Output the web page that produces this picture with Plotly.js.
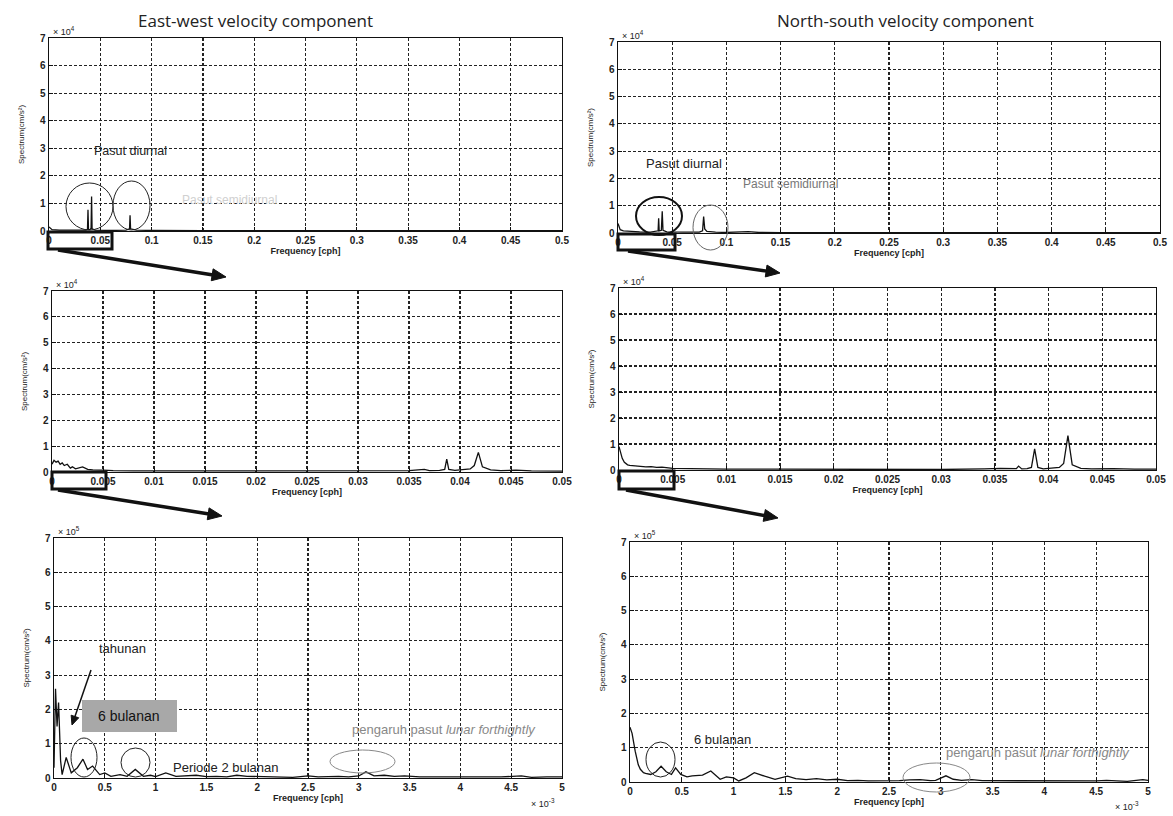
<!DOCTYPE html>
<html>
<head>
<meta charset="utf-8">
<script src="https://cdn.plot.ly/plotly-3.0.1.min.js"></script>
<style>html,body{margin:0;padding:0;background:#fff;}#chart{width:1173px;height:816px;}</style>
</head>
<body>
<div id="chart"></div>
<script>
// ---------- DATA (spectrum values in units of the axis multiplier) ----------
// Top row: full band 0–0.5 cph (×10^4)
const ewFullFreq = [0, 0.003, 0.01, 0.02, 0.03, 0.036, 0.0375, 0.038, 0.0385, 0.04, 0.041, 0.0415, 0.042, 0.045, 0.06, 0.075, 0.0785, 0.079, 0.0795, 0.082, 0.085, 0.1, 0.125, 0.15, 0.2, 0.25, 0.3, 0.35, 0.4, 0.45, 0.5];
const ewFullVal  = [0.15, 0.05, 0.03, 0.02, 0.02, 0.03, 0.05, 0.77, 0.05, 0.05, 0.1, 1.25, 0.08, 0.03, 0.02, 0.03, 0.08, 0.57, 0.08, 0.05, 0.03, 0.02, 0.01, 0.01, 0.01, 0.01, 0.01, 0.01, 0.01, 0.01, 0.01];
const nsFullFreq = [0, 0.002, 0.005, 0.01, 0.02, 0.03, 0.036, 0.037, 0.0375, 0.038, 0.04, 0.0408, 0.0415, 0.045, 0.06, 0.075, 0.078, 0.079, 0.08, 0.082, 0.09, 0.1, 0.12, 0.13, 0.15, 0.2, 0.3, 0.4, 0.5];
const nsFullVal  = [0.35, 0.12, 0.08, 0.06, 0.04, 0.03, 0.05, 0.08, 0.54, 0.08, 0.1, 0.8, 0.1, 0.04, 0.03, 0.03, 0.08, 0.6, 0.15, 0.06, 0.03, 0.02, 0.05, 0.02, 0.01, 0.01, 0.01, 0.01, 0.01];

// Middle row: 0–0.05 cph (×10^4)
const ewMidFreq = [0, 0.0002, 0.0004, 0.0006, 0.0008, 0.001, 0.0012, 0.0015, 0.0018, 0.002, 0.0023, 0.0026, 0.003, 0.0035, 0.004, 0.005, 0.006, 0.008, 0.01, 0.015, 0.02, 0.025, 0.03, 0.033, 0.035, 0.0365, 0.037, 0.038, 0.0385, 0.0387, 0.0389, 0.0395, 0.04, 0.041, 0.0414, 0.0418, 0.0422, 0.043, 0.044, 0.0455, 0.047, 0.05];
const ewMidVal  = [0.3, 0.45, 0.38, 0.42, 0.3, 0.35, 0.25, 0.3, 0.15, 0.2, 0.12, 0.15, 0.2, 0.1, 0.08, 0.07, 0.05, 0.04, 0.04, 0.03, 0.03, 0.03, 0.03, 0.04, 0.05, 0.1, 0.05, 0.06, 0.1, 0.5, 0.1, 0.06, 0.08, 0.12, 0.25, 0.76, 0.2, 0.08, 0.05, 0.07, 0.04, 0.03];
const nsMidFreq = [0, 0.0001, 0.0003, 0.0005, 0.0008, 0.001, 0.0015, 0.002, 0.0025, 0.003, 0.0035, 0.004, 0.005, 0.007, 0.01, 0.015, 0.02, 0.025, 0.03, 0.034, 0.0355, 0.037, 0.0372, 0.0375, 0.038, 0.0384, 0.0387, 0.039, 0.0395, 0.04, 0.041, 0.0414, 0.0418, 0.0422, 0.043, 0.044, 0.046, 0.048, 0.05];
const nsMidVal  = [0.9, 0.75, 0.45, 0.3, 0.2, 0.18, 0.15, 0.14, 0.12, 0.13, 0.1, 0.11, 0.06, 0.04, 0.03, 0.03, 0.02, 0.02, 0.02, 0.04, 0.06, 0.05, 0.15, 0.04, 0.05, 0.1, 0.81, 0.1, 0.04, 0.06, 0.1, 0.25, 1.32, 0.2, 0.06, 0.04, 0.05, 0.03, 0.03];

// Bottom row: 0–5 ×10^-3 cph (×10^5)
const ewLowFreq = [0, 0.015, 0.03, 0.045, 0.065, 0.08, 0.12, 0.17, 0.23, 0.285, 0.33, 0.38, 0.45, 0.5, 0.56, 0.65, 0.72, 0.8, 0.88, 0.95, 1.0, 1.1, 1.2, 1.3, 1.4, 1.5, 1.6, 1.7, 1.8, 1.9, 2.0, 2.1, 2.2, 2.35, 2.5, 2.6, 2.7, 2.8, 2.9, 3.0, 3.07, 3.15, 3.25, 3.35, 3.45, 3.6, 3.8, 4.0, 4.2, 4.4, 4.6, 4.7, 4.85, 5.0];
const ewLowVal  = [0.3, 2.6, 1.5, 2.2, 0.5, 0.1, 0.6, 0.15, 0.3, 0.55, 0.25, 0.35, 0.1, 0.15, 0.05, 0.1, 0.05, 0.25, 0.05, 0.08, 0.04, 0.15, 0.05, 0.07, 0.08, 0.04, 0.05, 0.03, 0.08, 0.05, 0.04, 0.03, 0.04, 0.02, 0.06, 0.03, 0.04, 0.05, 0.03, 0.06, 0.18, 0.06, 0.08, 0.05, 0.06, 0.03, 0.03, 0.03, 0.02, 0.03, 0.06, 0.02, 0.03, 0.03];
const nsLowFreq = [0, 0.02, 0.05, 0.08, 0.1, 0.13, 0.15, 0.2, 0.25, 0.3, 0.35, 0.4, 0.44, 0.49, 0.55, 0.6, 0.7, 0.78, 0.87, 0.93, 1.0, 1.05, 1.12, 1.2, 1.3, 1.4, 1.52, 1.6, 1.7, 1.8, 1.9, 2.0, 2.1, 2.2, 2.3, 2.4, 2.5, 2.6, 2.7, 2.8, 2.9, 2.95, 3.05, 3.12, 3.2, 3.3, 3.4, 3.5, 3.7, 3.9, 4.1, 4.3, 4.5, 4.6, 4.7, 4.8, 4.95, 5.0];
const nsLowVal  = [1.6, 1.42, 0.9, 0.5, 0.37, 0.27, 0.25, 0.22, 0.3, 0.46, 0.3, 0.22, 0.41, 0.22, 0.15, 0.18, 0.2, 0.32, 0.08, 0.15, 0.12, 0.03, 0.12, 0.27, 0.17, 0.08, 0.17, 0.1, 0.07, 0.1, 0.06, 0.08, 0.04, 0.05, 0.03, 0.03, 0.05, 0.04, 0.06, 0.07, 0.04, 0.05, 0.18, 0.08, 0.05, 0.07, 0.04, 0.04, 0.03, 0.03, 0.04, 0.02, 0.03, 0.05, 0.03, 0.02, 0.07, 0.05];

const panelTitles = ["East-west velocity component", "North-south velocity component"];
const yTickVals = [0, 1, 2, 3, 4, 5, 6, 7];
const xTicksFull = [0, 0.05, 0.1, 0.15, 0.2, 0.25, 0.3, 0.35, 0.4, 0.45, 0.5];
const xTicksMid = [0, 0.005, 0.01, 0.015, 0.02, 0.025, 0.03, 0.035, 0.04, 0.045, 0.05];
const xTicksLow = [0, 0.5, 1, 1.5, 2, 2.5, 3, 3.5, 4, 4.5, 5];

// ---------- LAYOUT HELPERS ----------
const W = 1173, H = 816;
const px = x => x / W;
const py = y => 1 - y / H;

const tickFont = {family: 'Liberation Sans, Arial, sans-serif', size: 10, color: '#222', weight: 'bold'};
function xAxis(box, ticks, range) {
  return {
    domain: [px(box[0]), px(box[2])], range: range, tickvals: ticks,
    showline: true, linecolor: '#111', linewidth: 1.4, mirror: true,
    showgrid: true, gridcolor: '#222', griddash: '3px,2px', gridwidth: 1.2,
    zeroline: false, ticks: 'inside', ticklen: 4, tickcolor: '#111',
    tickfont: tickFont, fixedrange: true,
    title: {text: '<b>Frequency [cph]</b>', font: {family: 'Liberation Sans, Arial, sans-serif', size: 9, color: '#222'}, standoff: 1}
  };
}
function yAxis(box) {
  return {
    domain: [py(box[3]), py(box[1])], range: [0, 7], tickvals: yTickVals,
    showline: true, linecolor: '#111', linewidth: 1.4, mirror: true,
    showgrid: true, gridcolor: '#222', griddash: '3px,2px', gridwidth: 1.2,
    zeroline: false, ticks: 'inside', ticklen: 4, tickcolor: '#111',
    tickfont: tickFont, fixedrange: true,
    title: {text: 'Spectrum(cm/s²)', font: {family: 'Liberation Sans Narrow, Liberation Sans, Arial', size: 8, color: '#222'}, standoff: 14}
  };
}

// panel boxes in pixels [left, top, right, bottom]
const boxes = [
  [49, 38, 562, 231],    // TL
  [618, 42, 1160, 233],  // TR
  [52, 291, 562, 472],   // ML
  [619, 288, 1156, 470], // MR
  [54, 538, 562, 778],   // BL
  [630, 542, 1148, 782]  // BR
];

const line = {color: '#111', width: 1.3};
const data = [
  {x: ewFullFreq, y: ewFullVal, xaxis: 'x', yaxis: 'y'},
  {x: nsFullFreq, y: nsFullVal, xaxis: 'x2', yaxis: 'y2'},
  {x: ewMidFreq, y: ewMidVal, xaxis: 'x3', yaxis: 'y3'},
  {x: nsMidFreq, y: nsMidVal, xaxis: 'x4', yaxis: 'y4'},
  {x: ewLowFreq, y: ewLowVal, xaxis: 'x5', yaxis: 'y5'},
  {x: nsLowFreq, y: nsLowVal, xaxis: 'x6', yaxis: 'y6'}
].map(t => Object.assign(t, {type: 'scatter', mode: 'lines', line: line, hoverinfo: 'skip', showlegend: false}));

const layout = {
  width: W, height: H, margin: {l: 0, r: 0, t: 0, b: 0},
  paper_bgcolor: '#fff', plot_bgcolor: '#fff', showlegend: false,
  xaxis: Object.assign(xAxis(boxes[0], xTicksFull, [0, 0.5]), {anchor: 'y'}),
  yaxis: Object.assign(yAxis(boxes[0]), {anchor: 'x'}),
  xaxis2: Object.assign(xAxis(boxes[1], xTicksFull, [0, 0.5]), {anchor: 'y2'}),
  yaxis2: Object.assign(yAxis(boxes[1]), {anchor: 'x2'}),
  xaxis3: Object.assign(xAxis(boxes[2], xTicksMid, [0, 0.05]), {anchor: 'y3'}),
  yaxis3: Object.assign(yAxis(boxes[2]), {anchor: 'x3'}),
  xaxis4: Object.assign(xAxis(boxes[3], xTicksMid, [0, 0.05]), {anchor: 'y4'}),
  yaxis4: Object.assign(yAxis(boxes[3]), {anchor: 'x4'}),
  xaxis5: Object.assign(xAxis(boxes[4], xTicksLow, [0, 5]), {anchor: 'y5'}),
  yaxis5: Object.assign(yAxis(boxes[4]), {anchor: 'x5'}),
  xaxis6: Object.assign(xAxis(boxes[5], xTicksLow, [0, 5]), {anchor: 'y6'}),
  yaxis6: Object.assign(yAxis(boxes[5]), {anchor: 'x6'}),
  shapes: [],
  annotations: []
};

function rect(x0, y0, x1, y1, opts) {
  layout.shapes.push(Object.assign({type: 'rect', xref: 'paper', yref: 'paper',
    x0: px(x0), x1: px(x1), y0: py(y1), y1: py(y0), line: {color: '#111', width: 3}}, opts || {}));
}
function ellipse(x0, y0, x1, y1, color, width) {
  layout.shapes.push({type: 'circle', xref: 'paper', yref: 'paper',
    x0: px(x0), x1: px(x1), y0: py(y1), y1: py(y0), line: {color: color, width: width}});
}
function text(t, x, y, size, color, extra) {
  layout.annotations.push(Object.assign({text: t, xref: 'paper', yref: 'paper', x: px(x), y: py(y),
    showarrow: false, xanchor: 'center', yanchor: 'middle',
    font: {family: 'Liberation Sans, Arial, sans-serif', size: size, color: color}}, extra || {}));
}
// arrow drawn as a line shape plus a filled triangular head (pixel coords)
function arrow(tx, ty, hx, hy, width, headLen, headHalf) {
  const dx = hx - tx, dy = hy - ty, len = Math.hypot(dx, dy);
  const ux = dx / len, uy = dy / len, nx = -uy, ny = ux;
  const bx = hx - ux * headLen, by = hy - uy * headLen;
  layout.shapes.push({type: 'line', xref: 'paper', yref: 'paper',
    x0: px(tx), y0: py(ty), x1: px(bx + ux * 1), y1: py(by + uy * 1), line: {color: '#111', width: width}});
  const p = (x, y) => px(x).toFixed(5) + ',' + py(y).toFixed(5);
  layout.shapes.push({type: 'path', xref: 'paper', yref: 'paper',
    path: 'M' + p(hx, hy) + ' L' + p(bx + nx * headHalf, by + ny * headHalf) + ' L' + p(bx - nx * headHalf, by - ny * headHalf) + ' Z',
    fillcolor: '#111', line: {color: '#111', width: 1}});
}

// Column titles
text(panelTitles[0], 255, 20, 17, '#222', {font: {family: 'Open Sans, sans-serif', size: 17, color: '#222'}});
text(panelTitles[1], 905, 20, 17, '#222', {font: {family: 'Open Sans, sans-serif', size: 17, color: '#222'}});

// Exponent labels
const expY = [[boxes[0], '× 10<sup>4</sup>'], [boxes[1], '× 10<sup>4</sup>'], [boxes[2], '× 10<sup>4</sup>'],
              [boxes[3], '× 10<sup>4</sup>'], [boxes[4], '× 10<sup>5</sup>'], [boxes[5], '× 10<sup>5</sup>']];
expY.forEach(e => text(e[1], e[0][0] + 2, e[0][1] - 7, 9, '#222', {xanchor: 'left'}));
text('× 10<sup>-3</sup>', 543, 803, 9, '#222');
text('× 10<sup>-3</sup>', 1127, 806, 9, '#222');

// Zoom boxes and arrows
rect(48, 232, 112, 249);
rect(618, 234, 675, 250);
rect(52, 472, 106, 489);
rect(619, 471, 674, 489);
arrow(58, 250, 226, 277, 3.5, 14, 6);
arrow(628, 251, 780, 273, 3.5, 14, 6);
arrow(58, 490, 222, 516, 3.5, 14, 6);
arrow(626, 490, 778, 518, 3.5, 14, 6);

// Top-left annotations
ellipse(66, 183, 113, 230, '#222', 1);
ellipse(113, 181, 150, 230, '#222', 1);
text('Pasut diurnal', 130, 151, 12.5, '#222');
text('Pasut semidiurnal', 229, 200, 12, '#d0d0d0');

// Top-right annotations
ellipse(636, 197, 682, 235, '#111', 2);
ellipse(693, 205, 728, 250, '#666', 1);
text('Pasut diurnal', 684, 164, 13, '#222');
text('Pasut semidiurnal', 790, 184, 12, '#777');

// Bottom-left annotations
rect(82, 700, 177, 732, {fillcolor: '#a8a8a8', line: {width: 0}});
text('6 bulanan', 129, 716, 14, '#111');
text('tahunan', 122, 648, 13, '#222');
arrow(91, 670, 72, 725, 1.5, 9, 4);
ellipse(71, 738, 97, 777, '#222', 1);
ellipse(121, 748, 150, 777, '#222', 1);
ellipse(330, 750, 395, 773, '#888', 1);
text('Periode 2 bulanan', 226, 767, 13, '#222');
text('pengaruh pasut <i>lunar forthightly</i>', 444, 729, 13, '#888');

// Bottom-right annotations
ellipse(646, 742, 675, 777, '#222', 1);
ellipse(903, 763, 970, 792, '#888', 1);
text('6 bulanan', 722, 739, 13, '#222');
text('pengaruh pasut <i>lunar forthightly</i>', 1038, 752, 13, '#888');

Plotly.newPlot('chart', data, layout, {staticPlot: true, displayModeBar: false});
</script>
</body>
</html>
